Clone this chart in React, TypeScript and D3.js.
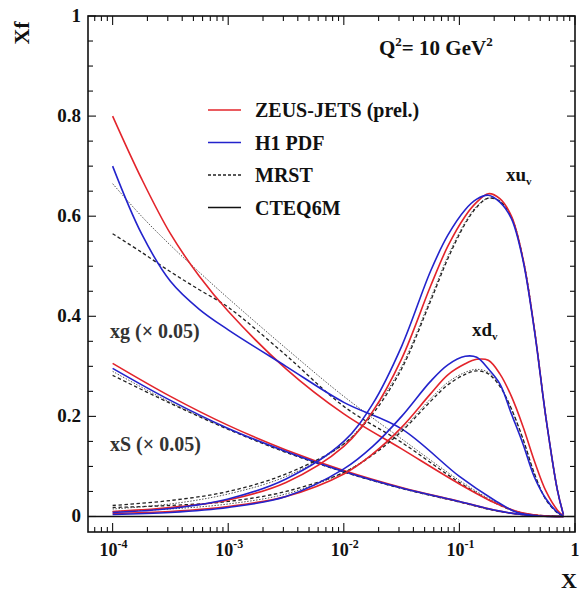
import React from "react";
import * as d3 from "d3";

// log10(x) grids
const gluonLogX = [-4, -3.75, -3.5, -3.25, -3, -2.5, -2, -1.5, -1, -0.7, -0.5, -0.3, -0.1];
const seaLogX = [-4, -3.5, -3, -2.5, -2, -1.5, -1, -0.7, -0.5, -0.3, -0.1];
const valenceLogX = [-4, -3.5, -3, -2.5, -2, -1.75, -1.5, -1.25, -1.1, -0.95, -0.85, -0.75, -0.65, -0.55, -0.45, -0.35, -0.25, -0.15, -0.1];

// xg (x 0.05)
const xgZeus = [0.8, 0.675, 0.565, 0.48, 0.41, 0.295, 0.205, 0.135, 0.065, 0.028, 0.01, 0.002, 0];
const xgH1 = [0.7, 0.565, 0.47, 0.414, 0.373, 0.3, 0.228, 0.175, 0.08, 0.033, 0.008, 0.001, 0];
const xgMrst = [0.565, 0.528, 0.489, 0.453, 0.418, 0.322, 0.22, 0.148, 0.068, 0.028, 0.009, 0.002, 0];
const xgCteq = [0.665, 0.6, 0.542, 0.488, 0.436, 0.336, 0.24, 0.155, 0.072, 0.03, 0.01, 0.002, 0];

// xS (x 0.05)
const xsZeus = [0.306, 0.24, 0.182, 0.133, 0.092, 0.058, 0.03, 0.013, 0.005, 0.001, 0];
const xsH1 = [0.296, 0.232, 0.176, 0.13, 0.09, 0.057, 0.03, 0.013, 0.005, 0.001, 0];
const xsMrst = [0.282, 0.226, 0.174, 0.128, 0.089, 0.056, 0.029, 0.012, 0.005, 0.001, 0];
const xsCteq = [0.29, 0.228, 0.175, 0.129, 0.089, 0.056, 0.029, 0.012, 0.005, 0.001, 0];

// xu_v
const xuZeus = [0.01, 0.018, 0.033, 0.068, 0.14, 0.21, 0.315, 0.46, 0.54, 0.6, 0.628, 0.645, 0.635, 0.6, 0.515, 0.372, 0.195, 0.05, 0.004];
const xuH1 = [0.008, 0.016, 0.035, 0.075, 0.15, 0.225, 0.34, 0.49, 0.562, 0.613, 0.634, 0.642, 0.628, 0.595, 0.512, 0.37, 0.195, 0.05, 0.004];
const xuMrst = [0.022, 0.032, 0.05, 0.085, 0.145, 0.205, 0.295, 0.43, 0.515, 0.585, 0.618, 0.636, 0.63, 0.598, 0.515, 0.372, 0.195, 0.05, 0.004];
const xuCteq = [0.015, 0.025, 0.045, 0.08, 0.145, 0.21, 0.3, 0.435, 0.52, 0.588, 0.62, 0.636, 0.63, 0.598, 0.515, 0.372, 0.195, 0.05, 0.004];

// xd_v
const xdZeus = [0.006, 0.01, 0.02, 0.04, 0.085, 0.125, 0.178, 0.245, 0.283, 0.305, 0.314, 0.312, 0.285, 0.24, 0.18, 0.11, 0.05, 0.012, 0.001];
const xdH1 = [0.004, 0.008, 0.018, 0.04, 0.095, 0.14, 0.2, 0.27, 0.303, 0.32, 0.318, 0.295, 0.265, 0.205, 0.145, 0.078, 0.035, 0.008, 0.001];
const xdMrst = [0.018, 0.022, 0.03, 0.05, 0.088, 0.123, 0.17, 0.23, 0.263, 0.284, 0.291, 0.285, 0.26, 0.215, 0.155, 0.085, 0.033, 0.007, 0.001];
const xdCteq = [0.01, 0.015, 0.025, 0.045, 0.088, 0.125, 0.173, 0.235, 0.268, 0.288, 0.294, 0.288, 0.262, 0.215, 0.155, 0.085, 0.033, 0.007, 0.001];

const yTicks = [0, 0.2, 0.4, 0.6, 0.8, 1];
const xDecades = [-4, -3, -2, -1, 0];
const legendLabels = ["ZEUS-JETS (prel.)", "H1 PDF", "MRST", "CTEQ6M"];

const W = 579;
const H = 594;
const FONT = "'Liberation Serif', 'Times New Roman', serif";

const styles = {
  zeus: { stroke: "#e3242b", width: 1.6, dash: undefined as string | undefined },
  h1: { stroke: "#2323cc", width: 1.6, dash: undefined as string | undefined },
  mrst: { stroke: "#222", width: 1.3, dash: "3.5,2.5" },
  cteq: { stroke: "#555", width: 1, dash: "1.5,1.5" },
};

export default function App() {
  const x = d3.scaleLog().domain([Math.pow(10, -4.213), 1]).range([88, 575]);
  const y = d3.scaleLinear().domain([-0.031, 1]).range([532, 16]);

  const line = d3
    .line<[number, number]>()
    .x((d) => x(Math.pow(10, d[0])))
    .y((d) => y(d[1]))
    .curve(d3.curveCatmullRom.alpha(0.5));

  const zip = (lx: number[], v: number[]) => lx.map((l, i) => [l, v[i]] as [number, number]);

  const curves = [
    { key: "xs-cteq", d: zip(seaLogX, xsCteq), s: styles.cteq },
    { key: "xs-mrst", d: zip(seaLogX, xsMrst), s: styles.mrst },
    { key: "xs-zeus", d: zip(seaLogX, xsZeus), s: styles.zeus },
    { key: "xs-h1", d: zip(seaLogX, xsH1), s: styles.h1 },
    { key: "xg-cteq", d: zip(gluonLogX, xgCteq), s: styles.cteq },
    { key: "xg-mrst", d: zip(gluonLogX, xgMrst), s: styles.mrst },
    { key: "xg-zeus", d: zip(gluonLogX, xgZeus), s: styles.zeus },
    { key: "xg-h1", d: zip(gluonLogX, xgH1), s: styles.h1 },
    { key: "xd-cteq", d: zip(valenceLogX, xdCteq), s: styles.cteq },
    { key: "xd-mrst", d: zip(valenceLogX, xdMrst), s: styles.mrst },
    { key: "xd-zeus", d: zip(valenceLogX, xdZeus), s: styles.zeus },
    { key: "xd-h1", d: zip(valenceLogX, xdH1), s: styles.h1 },
    { key: "xu-cteq", d: zip(valenceLogX, xuCteq), s: styles.cteq },
    { key: "xu-mrst", d: zip(valenceLogX, xuMrst), s: styles.mrst },
    { key: "xu-zeus", d: zip(valenceLogX, xuZeus), s: styles.zeus },
    { key: "xu-h1", d: zip(valenceLogX, xuH1), s: styles.h1 },
  ];

  const [x0, x1] = x.range();
  const [yb, yt] = y.range();

  // minor + major x ticks
  const xTicks: { v: number; major: boolean }[] = [];
  for (let e = -5; e <= 0; e++) {
    for (let m = 1; m <= 9; m++) {
      const v = m * Math.pow(10, e);
      if (v < x.domain()[0] || v > 1.0001) continue;
      xTicks.push({ v, major: m === 1 });
    }
  }
  const yMinor = d3.range(0, 1.0001, 0.05);

  const legendStyles = [styles.zeus, styles.h1, styles.mrst, { stroke: "#111", width: 1.4, dash: undefined }];

  return (
    <svg width={W} height={H} style={{ position: "absolute", left: 0, top: 0, background: "#fff" }} fontFamily={FONT}>
      <rect width={W} height={H} fill="#fff" />
      <g>
        {curves.map((c) => (
          <path
            key={c.key}
            d={line(c.d) || ""}
            fill="none"
            stroke={c.s.stroke}
            strokeWidth={c.s.width}
            strokeDasharray={c.s.dash}
          />
        ))}
      </g>
      {/* frame */}
      <rect x={x0} y={yt} width={x1 - x0} height={yb - yt} fill="none" stroke="#111" strokeWidth={1.6} />
      <line x1={x0} x2={x1} y1={y(0)} y2={y(0)} stroke="#111" strokeWidth={1.6} />
      {/* x ticks, top and bottom */}
      {xTicks.map((t, i) => {
        const len = t.major ? 9 : 5;
        const px = x(t.v);
        return (
          <g key={"xt" + i} stroke="#111" strokeWidth={1.1}>
            <line x1={px} x2={px} y1={yb} y2={yb - len} />
            <line x1={px} x2={px} y1={yt} y2={yt + len} />
          </g>
        );
      })}
      {/* y ticks, left and right */}
      {yMinor.map((v, i) => {
        const major = Math.abs(v * 5 - Math.round(v * 5)) < 1e-6;
        const len = major ? 8 : 5;
        const py = y(v);
        return (
          <g key={"yt" + i} stroke="#111" strokeWidth={1.1}>
            <line x1={x0} x2={x0 + len} y1={py} y2={py} />
            <line x1={x1} x2={x1 - len} y1={py} y2={py} />
          </g>
        );
      })}
      {/* y tick labels */}
      {yTicks.map((v) => (
        <text key={"yl" + v} x={x0 - 7} y={y(v) + 6} textAnchor="end" fontSize={19} fontWeight="bold" fill="#111">
          {v === 0 || v === 1 ? String(v) : v.toFixed(1)}
        </text>
      ))}
      {/* x tick labels */}
      {xDecades.map((e) => (
        <text key={"xl" + e} x={x(Math.pow(10, e)) + (e === 0 ? 0 : 1)} y={556} textAnchor="middle" fontSize={18} fontWeight="bold" fill="#111">
          {e === 0 ? (
            "1"
          ) : (
            <>
              10<tspan fontSize={12} dy={-8}>{String(e)}</tspan>
            </>
          )}
        </text>
      ))}
      {/* axis titles */}
      <text x={569} y={588} textAnchor="middle" fontSize={22} fontWeight="bold" fill="#111">
        X
      </text>
      <text transform="translate(29,33) rotate(-90)" textAnchor="middle" fontSize={22} fontWeight="bold" fill="#111">
        Xf
      </text>
      {/* Q2 label */}
      <text x={379} y={55} fontSize={21} fontWeight="bold" fill="#111">
        Q<tspan fontSize={13} dy={-9}>2</tspan>
        <tspan dy={9}>= 10 GeV</tspan>
        <tspan fontSize={13} dy={-9}>2</tspan>
      </text>
      {/* legend */}
      {legendLabels.map((lab, i) => {
        const ly = 110 + i * 32.5;
        const s = legendStyles[i];
        return (
          <g key={lab}>
            <line x1={208} x2={241} y1={ly} y2={ly} stroke={i === 3 ? "#111" : s.stroke} strokeWidth={1.5} strokeDasharray={i === 2 ? "3,2" : undefined} />
            <text x={255} y={ly + 7} fontSize={20} fontWeight="bold" fill="#111">
              {lab}
            </text>
          </g>
        );
      })}
      {/* curve labels */}
      <text x={506} y={181} fontSize={19} fontWeight="bold" fill="#111">
        xu<tspan fontSize={11} dy={4}>v</tspan>
      </text>
      <text x={472} y={336} fontSize={19} fontWeight="bold" fill="#111">
        xd<tspan fontSize={11} dy={4}>v</tspan>
      </text>
      <text x={110} y={338} fontSize={20} fontWeight="bold" fill="#333">
        xg (× 0.05)
      </text>
      <text x={110} y={451} fontSize={20} fontWeight="bold" fill="#333">
        xS (× 0.05)
      </text>
    </svg>
  );
}
